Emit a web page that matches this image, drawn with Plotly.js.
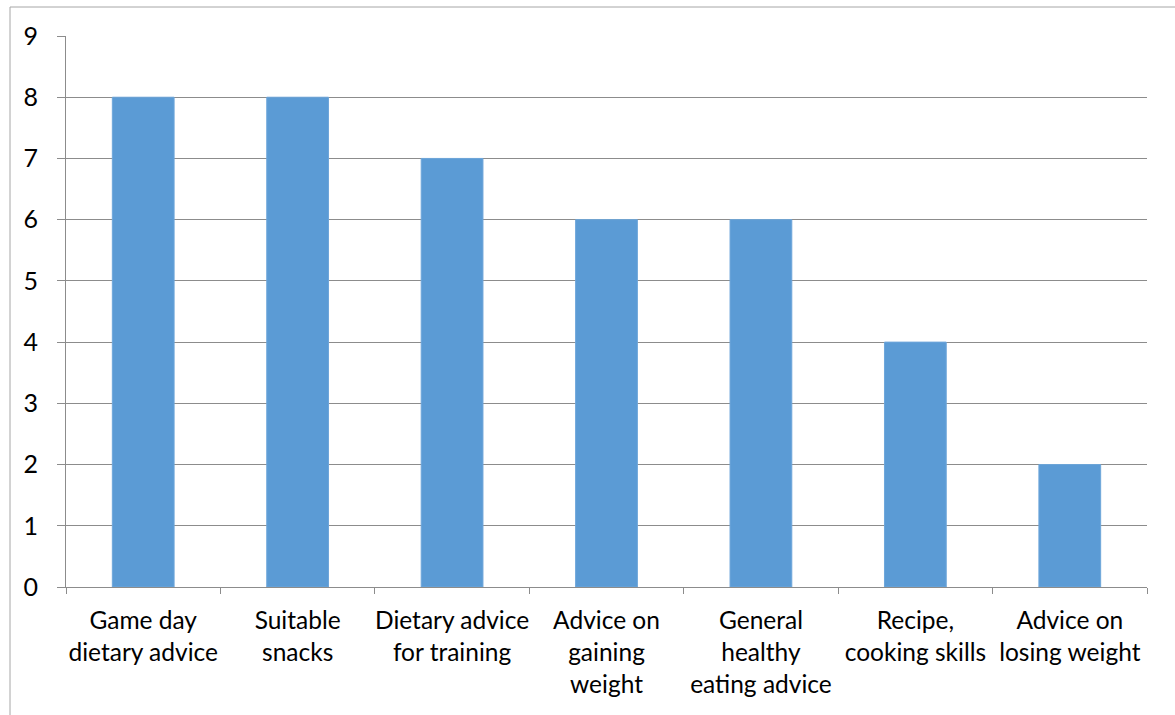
<!DOCTYPE html>
<html>
<head>
<meta charset="utf-8">
<script src="https://cdn.plot.ly/plotly-3.0.1.min.js"></script>
<style>
  html, body { margin: 0; padding: 0; background: #fff; }
  #chart { width: 1175px; height: 715px; }
</style>
</head>
<body>
<div id="chart"></div>
<script>
// Topics and how many respondents asked for each
const categories = [
  'Game day<br>dietary advice',
  'Suitable<br>snacks',
  'Dietary advice<br>for training',
  'Advice on<br>gaining<br>weight',
  'General<br>healthy<br>eating advice',
  'Recipe,<br>cooking skills',
  'Advice on<br>losing weight'
];
const counts = [8, 8, 7, 6, 6, 4, 2];
const yTicks = [0, 1, 2, 3, 4, 5, 6, 7, 8, 9];

const fontFamily = 'Lato, "Open Sans", sans-serif';
const gridGray = '#8c8c8c';

const trace = {
  type: 'bar',
  x: categories,
  y: counts,
  marker: { color: '#5b9bd5', line: { color: '#6ea6da', width: 1 } },
  width: 0.4,
  hoverinfo: 'x+y'
};

const layout = {
  width: 1175,
  height: 715,
  margin: { l: 66, r: 28, t: 36, b: 128 },
  paper_bgcolor: '#ffffff',
  plot_bgcolor: '#ffffff',
  showlegend: false,
  font: { family: fontFamily, size: 25, color: '#000000' },
  xaxis: {
    type: 'category',
    showgrid: false,
    showline: true,
    linecolor: gridGray,
    linewidth: 1,
    ticks: 'outside',
    tickson: 'boundaries',
    ticklen: 6,
    tickcolor: gridGray,
    tickangle: 0,
    tickfont: { family: fontFamily, size: 24.5, color: '#000' },
    ticklabelstandoff: 12,
    zeroline: false
  },
  yaxis: {
    range: [0, 9],
    tickvals: yTicks,
    ticktext: yTicks.map(String),
    showgrid: true,
    gridcolor: gridGray,
    gridwidth: 1,
    showline: true,
    linecolor: gridGray,
    linewidth: 1,
    ticks: 'outside',
    ticklen: 8,
    tickcolor: gridGray,
    tickfont: { family: fontFamily, size: 25, color: '#000' },
    ticklabelstandoff: 14,
    zeroline: false
  },
  shapes: [{
    type: 'rect', xref: 'paper', yref: 'paper',
    x0: -56 / 1081, x1: 1.2, y0: -0.5, y1: 1 + 29 / 551,
    line: { color: '#a6a6a6', width: 1 },
    fillcolor: 'rgba(0,0,0,0)',
    layer: 'below'
  }]
};

Plotly.newPlot('chart', [trace], layout, { displayModeBar: false, staticPlot: true });
</script>
</body>
</html>
